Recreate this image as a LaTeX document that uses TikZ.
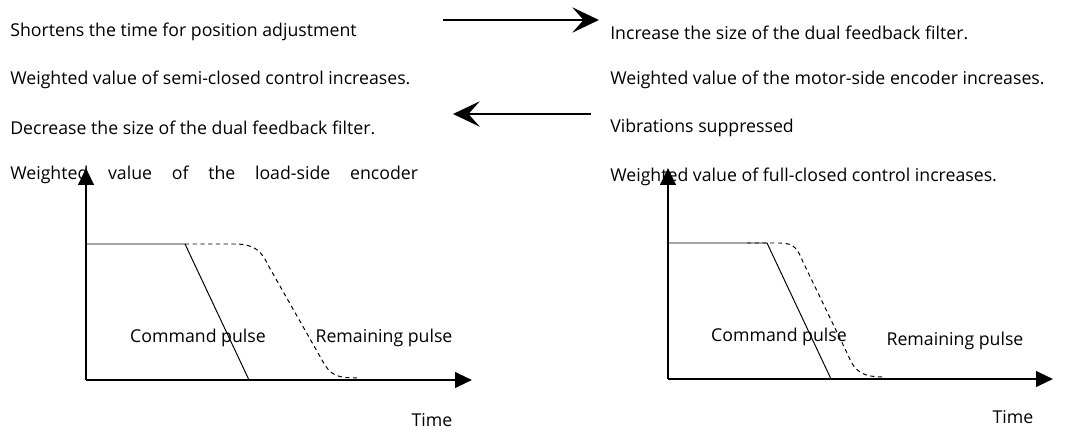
\documentclass[tikz,border=0pt]{standalone}
\usepackage{fontspec}
\setmainfont{Open Sans}
\usetikzlibrary{arrows.meta}

\begin{document}
\begin{tikzpicture}[x=0.025cm,y=-0.025cm,
  txt/.style={anchor=west, inner sep=0pt, font=\fontsize{12.6}{15}\selectfont},
  lbl/.style={inner sep=0pt, font=\fontsize{12.6}{15}\selectfont},
  axis/.style={line width=1.7pt, -{Triangle[length=12pt,width=11pt]}},
  swap/.style={line width=1.5pt, -{Stealth[length=19pt,width=18pt,inset=8pt]}},
  curve/.style={line width=0.7pt},
  rest/.style={line width=0.7pt, dash pattern=on 3pt off 2.5pt}]
\useasboundingbox (0,0) rectangle (1077,433);

  %text, left column
\node[txt] (shorten) at (10,32) {Shortens the time for position adjustment};
\node[txt] (semi) at (10,80) {Weighted value of semi-closed control increases.};
\node[txt] (decr) at (10,128) {Decrease the size of the dual feedback filter.};
\node[txt] (load) at (10,175) {\makebox[290pt][s]{Weighted value of the load-side encoder}};

  %text, right column
\node[txt] (incr) at (610,33) {Increase the size of the dual feedback filter.};
\node[txt] (motor) at (610,80) {Weighted value of the motor-side encoder increases.};
\node[txt] (vib) at (610,128) {Vibrations suppressed};
\node[txt] (full) at (610,177) {Weighted value of full-closed control increases.};

  %arrows between columns
  \coordinate (RA) at (443,20);
  \coordinate (RB) at (599,20);
  \coordinate (LA) at (591,114);
  \coordinate (LB) at (453,114);
  \draw[swap] (RA) -- (RB);
  \draw[swap] (LA) -- (LB);

   %graph I

  \coordinate (IO) at (86,380);
  \coordinate (IY) at (86,168);
  \coordinate (IX) at (472,380);
  \coordinate (IP) at (86,244);
  \coordinate (IQ) at (185,244);
  \coordinate (IR) at (249,380);
  \draw[curve] (IP) -- (IQ) -- (IR);
  \draw[rest] (IQ) -- (235,244) .. controls (255,244) and (262,252) .. (268,265)
     -- (322,360) .. controls (330,375) and (336,378) .. (358,378);
  \draw[axis] (IO) -- (IY);
  \draw[axis] (IO) -- (IX);
\node[lbl] (cmdI) at (198,338) {Command pulse};
\node[lbl] (remI) at (384,338) {Remaining pulse};
\node[lbl] (timeI) at (432,420) {Time};

   %graph II

  \coordinate (IIO) at (668,379);
  \coordinate (IIY) at (668,168);
  \coordinate (IIX) at (1053,379);
  \coordinate (IIP) at (668,243);
  \coordinate (IIQ) at (767,243);
  \coordinate (IIR) at (831,379);
  \draw[curve] (IIP) -- (IIQ) -- (IIR);
  \draw[rest] (747,243) -- (780,243) .. controls (795,243) and (798,250) .. (803,262)
     -- (848,355) .. controls (855,372) and (862,377) .. (885,377);
  \draw[axis] (IIO) -- (IIY);
  \draw[axis] (IIO) -- (IIX);
\node[lbl] (cmdII) at (779,337) {Command pulse};
\node[lbl] (remII) at (955,341) {Remaining pulse};
\node[lbl] (timeII) at (1013,417) {Time};

\end{tikzpicture}
\end{document}
